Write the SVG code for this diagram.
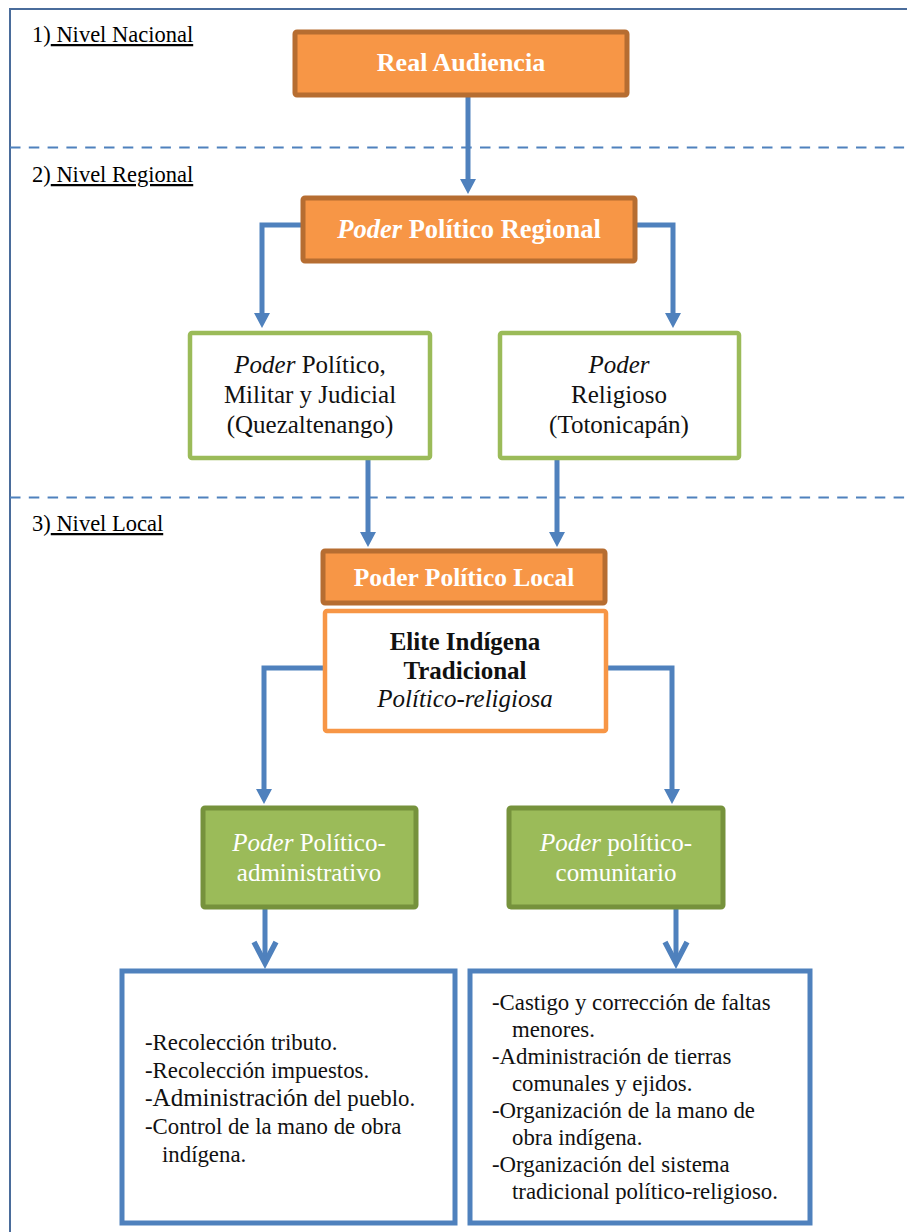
<svg xmlns="http://www.w3.org/2000/svg" width="907" height="1232" viewBox="0 0 907 1232">
  <defs>
    <style>
      text { font-family: 'Liberation Serif', 'Times New Roman', serif; }
      .frame { fill: none; stroke: #4a6c9b; stroke-width: 2; }
      .level { fill: none; stroke: #4f81bd; stroke-width: 2; stroke-dasharray: 10.5 8.3; }
      .lbl { font-size: 22.5px; fill: #000; }
      .hdr { fill: #f79646; stroke: #b66d31; stroke-width: 5; }
      .hdr-t { font-weight: bold; fill: #fff; text-anchor: middle; }
      .gout { fill: #fff; stroke: #9bbb59; stroke-width: 4.5; }
      .gfill { fill: #9bbb59; stroke: #76923c; stroke-width: 5; }
      .elite { fill: #fff; stroke: #f79646; stroke-width: 4.5; }
      .list { fill: #fff; stroke: #4f81bd; stroke-width: 5; }
      .body { font-size: 25px; fill: #111; text-anchor: middle; }
      .white { fill: #fff; }
      .item { font-size: 22.8px; fill: #111; }
      .conn { fill: none; stroke: #4f81bd; stroke-width: 5; }
      .arrow { marker-end: url(#tri); }
      .varrow { marker-end: url(#vee); }
    </style>
    <marker id="tri" markerUnits="userSpaceOnUse" markerWidth="20" markerHeight="20" viewBox="0 0 20 20" refX="4" refY="10" orient="auto">
      <path d="M0,2 L15,10 L0,18 Z" fill="#4f81bd"/>
    </marker>
    <marker id="vee" markerUnits="userSpaceOnUse" markerWidth="30" markerHeight="30" viewBox="0 0 30 30" refX="24" refY="15" orient="auto">
      <path d="M3,4 L24,15 L3,26" fill="none" stroke="#4f81bd" stroke-width="5.5" stroke-linejoin="miter"/>
    </marker>
  </defs>

  <!-- outer frame and level separators -->
  <g id="frame">
    <path class="frame" d="M10,1232 V9 H907"/>
    <line class="level" x1="10" y1="147.5" x2="907" y2="147.5"/>
    <line class="level" x1="10" y1="497.5" x2="907" y2="497.5"/>
  </g>

  <!-- level captions -->
  <g id="levels">
    <text class="lbl" x="32" y="42">1)<tspan text-decoration="underline"> Nivel Nacional</tspan></text>
    <text class="lbl" x="32" y="182">2)<tspan text-decoration="underline"> Nivel Regional</tspan></text>
    <text class="lbl" x="32" y="531">3)<tspan text-decoration="underline"> Nivel Local</tspan></text>
  </g>

  <!-- connectors -->
  <g id="connectors">
    <path class="conn arrow" d="M468,97 V183"/>
    <path class="conn arrow" d="M301,225 H262 V317"/>
    <path class="conn arrow" d="M636,225 H673 V317"/>
    <path class="conn arrow" d="M368,460 V536"/>
    <path class="conn arrow" d="M557,460 V536"/>
    <path class="conn arrow" d="M323,668 H264 V793"/>
    <path class="conn arrow" d="M608,668 H672 V793"/>
    <path class="conn varrow" d="M265,908 V963"/>
    <path class="conn varrow" d="M676,908 V963"/>
  </g>

  <g id="real-audiencia">
    <rect class="hdr" x="295" y="32" width="332" height="63" rx="2"/>
    <text class="hdr-t" x="461" y="71" font-size="26">Real Audiencia</text>
  </g>

  <g id="poder-regional">
    <rect class="hdr" x="303" y="198" width="332" height="63" rx="2"/>
    <text class="hdr-t" x="469" y="238" font-size="26.5"><tspan font-style="italic">Poder</tspan> Político Regional</text>
  </g>

  <g id="poder-militar">
    <rect class="gout" x="190" y="333" width="240" height="125" rx="2"/>
    <text class="body" x="310" y="373"><tspan font-style="italic">Poder</tspan> Político,</text>
    <text class="body" x="310" y="403">Militar y Judicial</text>
    <text class="body" x="310" y="433">(Quezaltenango)</text>
  </g>

  <g id="poder-religioso">
    <rect class="gout" x="500" y="333" width="239" height="125" rx="2"/>
    <text class="body" x="619" y="373" font-style="italic">Poder</text>
    <text class="body" x="619" y="403">Religioso</text>
    <text class="body" x="619" y="433">(Totonicapán)</text>
  </g>

  <g id="poder-local">
    <rect class="hdr" x="323" y="551" width="282" height="52" rx="2"/>
    <text class="hdr-t" x="464" y="586" font-size="25.5">Poder Político Local</text>
  </g>

  <g id="elite">
    <rect class="elite" x="325" y="611" width="281" height="120" rx="2"/>
    <text class="body" x="465" y="650" font-weight="bold" font-size="26" fill="#000">Elite Indígena</text>
    <text class="body" x="465" y="679" font-weight="bold" font-size="26" fill="#000">Tradicional</text>
    <text class="body" x="465" y="707" font-style="italic" font-size="20">Político-religiosa</text>
  </g>

  <g id="poder-administrativo">
    <rect class="gfill" x="203" y="808" width="213" height="99" rx="2"/>
    <text class="body white" x="309" y="851"><tspan font-style="italic">Poder</tspan> Político-</text>
    <text class="body white" x="309" y="881">administrativo</text>
  </g>

  <g id="poder-comunitario">
    <rect class="gfill" x="509" y="808" width="214" height="99" rx="2"/>
    <text class="body white" x="616" y="851"><tspan font-style="italic">Poder</tspan> político-</text>
    <text class="body white" x="616" y="881">comunitario</text>
  </g>

  <g id="funciones-administrativas">
    <rect class="list" x="122" y="971" width="333" height="252"/>
    <text class="item" x="145" y="1050" font-size="22">-Recolección tributo.</text>
    <text class="item" x="145" y="1078" font-size="22">-Recolección impuestos.</text>
    <text class="item" x="145" y="1106" font-size="22">-<tspan font-size="25">Administración</tspan> del pueblo.</text>
    <text class="item" x="145" y="1134" font-size="22">-Control de la mano de obra</text>
    <text class="item" x="162" y="1162" font-size="22">indígena.</text>
  </g>

  <g id="funciones-comunitarias">
    <rect class="list" x="470" y="971" width="340" height="252"/>
    <text class="item" x="492" y="1010">-Castigo y corrección de faltas</text>
    <text class="item" x="512" y="1037">menores.</text>
    <text class="item" x="492" y="1064">-Administración de tierras</text>
    <text class="item" x="512" y="1091">comunales y ejidos.</text>
    <text class="item" x="492" y="1118">-Organización de la mano de</text>
    <text class="item" x="512" y="1145">obra indígena.</text>
    <text class="item" x="492" y="1172">-Organización del sistema</text>
    <text class="item" x="512" y="1199">tradicional político-religioso.</text>
  </g>
</svg>
